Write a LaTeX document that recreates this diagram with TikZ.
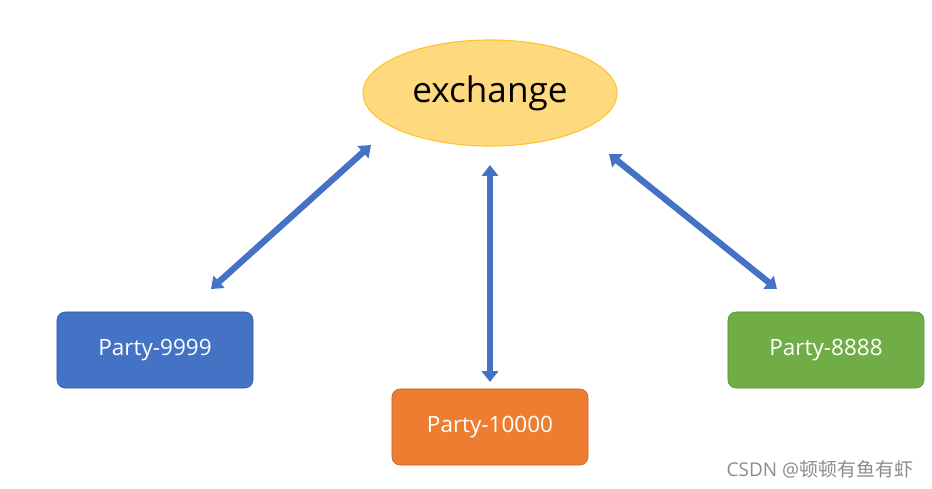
\documentclass[tikz,border=0pt]{standalone}
\usepackage{fontspec}
\setmainfont{Open Sans}
\newfontfamily\cjkfont{Noto Sans CJK SC}
\usepackage{tikz}
\usetikzlibrary{shapes.geometric, arrows.meta, positioning}
\definecolor{partyblue}{RGB}{68,114,196}
\definecolor{partyorange}{RGB}{237,125,49}
\definecolor{partygreen}{RGB}{112,173,71}
\definecolor{exfill}{RGB}{255,217,125}
\definecolor{exdraw}{RGB}{255,196,50}
\definecolor{arrblue}{RGB}{68,114,196}

\begin{document}
\begin{tikzpicture}[
  x=0.025cm, y=-0.025cm,
  party/.style={rectangle, draw=#1!80!black, fill=#1, rounded corners=0.2cm,
                minimum width=4.9cm, minimum height=1.9cm, text=white,
                font=\fontsize{16}{19}\selectfont},
  hub/.style={ellipse, draw=exdraw, fill=exfill, line width=0.8pt,
              minimum width=6.35cm, minimum height=2.65cm,
              font=\fontsize{25}{29}\selectfont},
  arr/.style={{Triangle[length=2.7mm,width=4mm]}-{Triangle[length=2.7mm,width=4mm]},
              draw=arrblue, line width=4.5pt}
]
\useasboundingbox (0,0) rectangle (932,488);
\node[hub] (X) at (490,93) {\raisebox{-0.8mm}{exchange}};
\node[party=partyblue]   (P9)  at (155,350) {\raisebox{-0.6mm}{Party-9999}};
\node[party=partyorange] (P10) at (490,427) {\raisebox{-0.6mm}{Party-10000}};
\node[party=partygreen]  (P8)  at (826,350) {\raisebox{-0.6mm}{Party-8888}};
% arrow ends
\coordinate (a1) at (371,145);
\coordinate (b1) at (211,289);
\coordinate (a2) at (490,165);
\coordinate (b2) at (490,382);
\coordinate (a3) at (609,154);
\coordinate (b3) at (777,289);
\draw[arr] (a1) -- (b1);
\draw[arr] (a2) -- (b2);
\draw[arr] (a3) -- (b3);
\node[text=black!45, font=\fontsize{13.5}{16}\selectfont, anchor=east] (wm) at (918,469)
  {CSDN @{\cjkfont 顿顿有鱼有虾}};
\end{tikzpicture}
\end{document}
